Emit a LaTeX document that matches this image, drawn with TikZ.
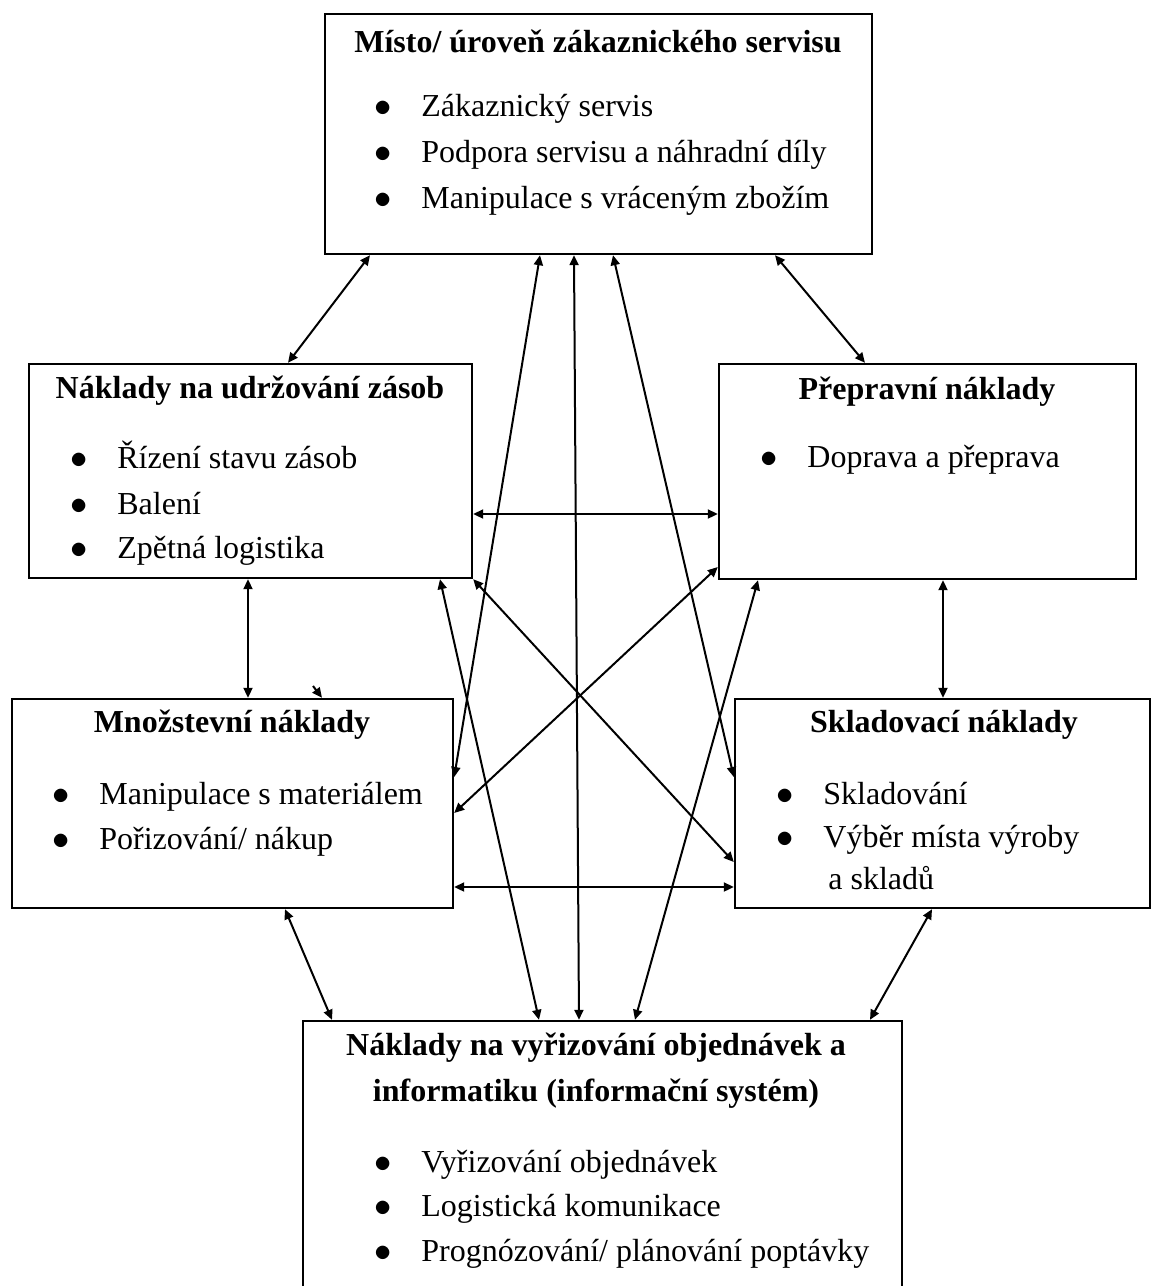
\documentclass[tikz,border=0pt]{standalone}
\usepackage{fontspec}
\setmainfont{Liberation Serif}
\usepackage{tikz}
\usetikzlibrary{arrows.meta}

\newcommand{\bitem}[1]{\makebox[23.5pt][l]{$\bullet$}#1}

\begin{document}
\begin{tikzpicture}[x=0.5pt, y=-0.5pt, font=\fontsize{16}{19}\selectfont,
  box/.style={draw, line width=1.2pt, inner sep=0pt},
  ttl/.style={font=\fontsize{16}{19}\selectfont\bfseries, anchor=mid, inner sep=0pt},
  itm/.style={anchor=mid west, inner sep=0pt},
  conn/.style={{Triangle[length=5pt,width=4.5pt]}-{Triangle[length=5pt,width=4.5pt]}, line width=1pt}]
  \useasboundingbox (0,0) rectangle (1152,1286);
  % Boxes
  \node[box, minimum width=273.5pt, minimum height=120pt] (top) at (598.5,134) {};
  \node[box, minimum width=221.5pt, minimum height=107pt] (inv) at (250.5,471) {};
  \node[box, minimum width=208.5pt, minimum height=107.5pt] (trans) at (927.5,471.5) {};
  \node[box, minimum width=220.5pt, minimum height=104.5pt] (qty) at (232.5,803.5) {};
  \node[box, minimum width=207.5pt, minimum height=104.5pt] (wh) at (942.5,803.5) {};
  \node[box, minimum width=299.5pt, minimum height=139.5pt] (order) at (602.5,1160.5) {};
  % Titles
  \node[ttl] (top-t) at (598,48) {Místo/ úroveň zákaznického servisu};
  \node[ttl] (inv-t) at (250,394) {Náklady na udržování zásob};
  \node[ttl] (trans-t) at (927,395) {Přepravní náklady};
  \node[ttl] (qty-t) at (232,728) {Množstevní náklady};
  \node[ttl] (wh-t) at (944,728) {Skladovací náklady};
  \node[ttl] (order-t1) at (596,1051) {Náklady na vyřizování objednávek a};
  \node[ttl] (order-t2) at (596,1097) {informatiku (informační systém)};
  % Items
  \node[itm] (top-1) at (374,112) {\bitem{Zákaznický servis}};
  \node[itm] (top-2) at (374,158) {\bitem{Podpora servisu a náhradní díly}};
  \node[itm] (top-3) at (374,204) {\bitem{Manipulace s vráceným zbožím}};
  \node[itm] (inv-1) at (70,464) {\bitem{Řízení stavu zásob}};
  \node[itm] (inv-2) at (70,510) {\bitem{Balení}};
  \node[itm] (inv-3) at (70,554) {\bitem{Zpětná logistika}};
  \node[itm] (trans-1) at (760,463) {\bitem{Doprava a přeprava}};
  \node[itm] (qty-1) at (52,800) {\bitem{Manipulace s materiálem}};
  \node[itm] (qty-2) at (52,845) {\bitem{Pořizování/ nákup}};
  \node[itm] (wh-1) at (776,800) {\bitem{Skladování}};
  \node[itm] (wh-2) at (776,843) {\bitem{Výběr místa výroby}};
  \node[itm] (wh-3) at (828,885) {a skladů};
  \node[itm] (order-1) at (374,1168) {\bitem{Vyřizování objednávek}};
  \node[itm] (order-2) at (374,1212) {\bitem{Logistická komunikace}};
  \node[itm] (order-3) at (374,1257) {\bitem{Prognózování/ plánování poptávky}};
  % Links from the top box
  \draw[conn] (370,0 |- top.south) -- (288,0 |- inv.north);
  \draw[conn] (775,0 |- top.south) -- (865,0 |- trans.north);
  \draw[conn] (540,0 |- top.south) -- (qty.east |- 0,777);
  \draw[conn] (574,0 |- top.south) -- (579,0 |- order.north);
  \draw[conn] (613,0 |- top.south) -- (wh.west |- 0,777);
  % Links from the second row
  \draw[conn] (inv.east |- 0,514) -- (trans.west |- 0,514);
  \draw[conn] (248,0 |- inv.south) -- (248,0 |- qty.north);
  \draw[conn] (943,0 |- trans.south) -- (943,0 |- wh.north);
  \draw[conn] (trans.west |- 0,567) -- (qty.east |- 0,813);
  \draw[conn] (inv.south east) -- (wh.west |- 0,862);
  \draw[conn] (440,0 |- inv.south) -- (539,0 |- order.north);
  \draw[conn] (758,0 |- trans.south) -- (635,0 |- order.north);
  % Links from the third row
  \draw[conn] (qty.east |- 0,887) -- (wh.west |- 0,887);
  \draw[conn] (285,0 |- qty.south) -- (332,0 |- order.north);
  \draw[conn] (932,0 |- wh.south) -- (870,0 |- order.north);
  % Stray tip
  \coordinate (stray) at (313,686);
  \draw[-{Triangle[length=5pt,width=4.5pt]}, line width=1pt] (stray) -- (322,0 |- qty.north);
\end{tikzpicture}
\end{document}
